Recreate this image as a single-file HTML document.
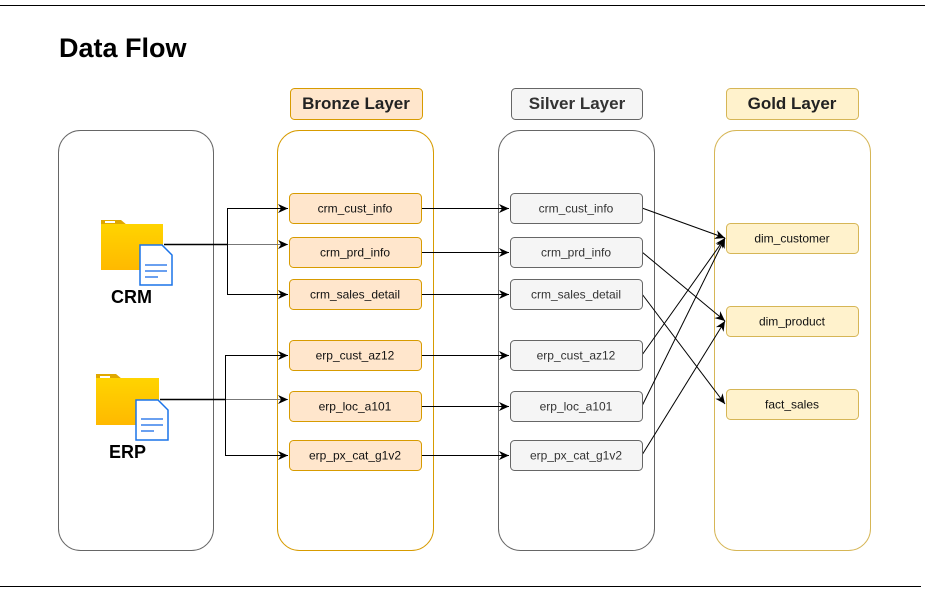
<!DOCTYPE html>
<html><head><style>body{margin:0;background:#fff}svg{display:block}text{font-family:"Liberation Sans",Arial,sans-serif}</style></head>
<body>
<svg width="929" height="592" viewBox="0 0 929 592" xmlns="http://www.w3.org/2000/svg">
<defs><marker id="a" markerWidth="12" markerHeight="12" refX="10" refY="6" orient="auto" markerUnits="userSpaceOnUse"><path d="M0,1.5 L10,6 L0,10.5 L3,6 z" fill="#000"/></marker>
<linearGradient id="g" x1="0" y1="0" x2="0" y2="1"><stop offset="0" stop-color="#ffd400"/><stop offset="1" stop-color="#ffb900"/></linearGradient></defs>
<line x1="0" y1="5.5" x2="925" y2="5.5" stroke="#000"/>
<line x1="0" y1="586.5" x2="921" y2="586.5" stroke="#000"/>
<text x="59" y="57" font-size="27" font-weight="bold">Data Flow</text>
<rect x="58.5" y="130.5" width="155" height="420" rx="22" fill="#fff" stroke="#666"/>
<rect x="277.5" y="130.5" width="156" height="420" rx="22" fill="#fff" stroke="#d79b00"/>
<rect x="498.5" y="130.5" width="156" height="420" rx="22" fill="#fff" stroke="#666"/>
<rect x="714.5" y="130.5" width="156" height="420" rx="22" fill="#fff" stroke="#d6b656"/>
<rect x="290.5" y="88.5" width="132" height="31" rx="4" fill="#ffe6cc" stroke="#d79b00"/>
<text x="356" y="109" font-size="17" font-weight="bold" text-anchor="middle" fill="#222">Bronze Layer</text>
<rect x="511.5" y="88.5" width="131" height="31" rx="4" fill="#f5f5f5" stroke="#666"/>
<text x="577" y="109" font-size="17" font-weight="bold" text-anchor="middle" fill="#333">Silver Layer</text>
<rect x="726.5" y="88.5" width="132" height="31" rx="4" fill="#fff2cc" stroke="#d6b656"/>
<text x="792" y="109" font-size="17" font-weight="bold" text-anchor="middle" fill="#222">Gold Layer</text>
<g>
<path d="M101,220 h20 l6,5 h36 v45 h-62 z" fill="#e0a800"/>
<rect x="101" y="224" width="62" height="46" fill="url(#g)"/>
<rect x="105" y="221" width="10" height="2" fill="#fff"/>
<path d="M140,245 h22 l10,10 v30 h-32 z" fill="#fff" stroke="#1a73e8" stroke-width="1.5"/>
<line x1="145" y1="265" x2="167" y2="265" stroke="#6aa0f0" stroke-width="2"/>
<line x1="145" y1="271" x2="167" y2="271" stroke="#6aa0f0" stroke-width="2"/>
<line x1="145" y1="277" x2="158" y2="277" stroke="#6aa0f0" stroke-width="2"/>
<text x="111" y="303" font-size="18" font-weight="bold">CRM</text>
</g>
<g>
<path d="M96,374 h20 l6,5 h37 v46 h-63 z" fill="#e0a800"/>
<rect x="96" y="378" width="63" height="47" fill="url(#g)"/>
<rect x="100" y="376" width="10" height="2" fill="#fff"/>
<path d="M136,400 h22 l10,10 v30 h-32 z" fill="#fff" stroke="#1a73e8" stroke-width="1.5"/>
<line x1="141" y1="419" x2="163" y2="419" stroke="#6aa0f0" stroke-width="2"/>
<line x1="141" y1="425" x2="163" y2="425" stroke="#6aa0f0" stroke-width="2"/>
<line x1="141" y1="431" x2="154" y2="431" stroke="#6aa0f0" stroke-width="2"/>
<text x="109" y="458" font-size="18" font-weight="bold">ERP</text>
</g>
<g fill="none" stroke="#000">
<path d="M164,244.5 H288" stroke="#777" marker-end="url(#a)"/>
<path d="M164,244.5 H227" stroke-width="1.5"/>
<path d="M227.5,244 V208.5 H288" marker-end="url(#a)"/>
<path d="M227.5,244 V294.5 H288" marker-end="url(#a)"/>
<path d="M160,399.5 H288" stroke="#777" marker-end="url(#a)"/>
<path d="M160,399.5 H225" stroke-width="1.5"/>
<path d="M225.5,399 V355.5 H288" marker-end="url(#a)"/>
<path d="M225.5,399 V455.5 H288" marker-end="url(#a)"/>
<path d="M421,208.5 H509" marker-end="url(#a)"/>
<path d="M421,252.5 H509" marker-end="url(#a)"/>
<path d="M421,294.5 H509" marker-end="url(#a)"/>
<path d="M421,355.5 H509" marker-end="url(#a)"/>
<path d="M421,406.5 H509" marker-end="url(#a)"/>
<path d="M421,455.5 H509" marker-end="url(#a)"/>
<path d="M642,208 L725,238" marker-end="url(#a)"/>
<path d="M642,252 L725,321" marker-end="url(#a)"/>
<path d="M642,294 L725,404" marker-end="url(#a)"/>
<path d="M642,355 L725,238" marker-end="url(#a)"/>
<path d="M642,406 L725,238" marker-end="url(#a)"/>
<path d="M642,455 L725,321" marker-end="url(#a)"/>
</g>
<g font-size="12" text-anchor="middle" fill="#111">
<rect x="289.5" y="193.5" width="132" height="30" rx="4" fill="#ffe6cc" stroke="#d79b00"/><text x="355" y="212.5">crm_cust_info</text>
<rect x="289.5" y="237.5" width="132" height="30" rx="4" fill="#ffe6cc" stroke="#d79b00"/><text x="355" y="256.5">crm_prd_info</text>
<rect x="289.5" y="279.5" width="132" height="30" rx="4" fill="#ffe6cc" stroke="#d79b00"/><text x="355" y="298.5">crm_sales_detail</text>
<rect x="289.5" y="340.5" width="132" height="30" rx="4" fill="#ffe6cc" stroke="#d79b00"/><text x="355" y="359.5">erp_cust_az12</text>
<rect x="289.5" y="391.5" width="132" height="30" rx="4" fill="#ffe6cc" stroke="#d79b00"/><text x="355" y="410.5">erp_loc_a101</text>
<rect x="289.5" y="440.5" width="132" height="30" rx="4" fill="#ffe6cc" stroke="#d79b00"/><text x="355" y="459.5">erp_px_cat_g1v2</text>
</g>
<g font-size="12" text-anchor="middle" fill="#333">
<rect x="510.5" y="193.5" width="132" height="30" rx="4" fill="#f5f5f5" stroke="#666"/><text x="576" y="212.5">crm_cust_info</text>
<rect x="510.5" y="237.5" width="132" height="30" rx="4" fill="#f5f5f5" stroke="#666"/><text x="576" y="256.5">crm_prd_info</text>
<rect x="510.5" y="279.5" width="132" height="30" rx="4" fill="#f5f5f5" stroke="#666"/><text x="576" y="298.5">crm_sales_detail</text>
<rect x="510.5" y="340.5" width="132" height="30" rx="4" fill="#f5f5f5" stroke="#666"/><text x="576" y="359.5">erp_cust_az12</text>
<rect x="510.5" y="391.5" width="132" height="30" rx="4" fill="#f5f5f5" stroke="#666"/><text x="576" y="410.5">erp_loc_a101</text>
<rect x="510.5" y="440.5" width="132" height="30" rx="4" fill="#f5f5f5" stroke="#666"/><text x="576" y="459.5">erp_px_cat_g1v2</text>
</g>
<g font-size="12" text-anchor="middle" fill="#111">
<rect x="726.5" y="223.5" width="132" height="30" rx="4" fill="#fff2cc" stroke="#d6b656"/><text x="792" y="242.5">dim_customer</text>
<rect x="726.5" y="306.5" width="132" height="30" rx="4" fill="#fff2cc" stroke="#d6b656"/><text x="792" y="325.5">dim_product</text>
<rect x="726.5" y="389.5" width="132" height="30" rx="4" fill="#fff2cc" stroke="#d6b656"/><text x="792" y="408.5">fact_sales</text>
</g>
</svg>
</body></html>
